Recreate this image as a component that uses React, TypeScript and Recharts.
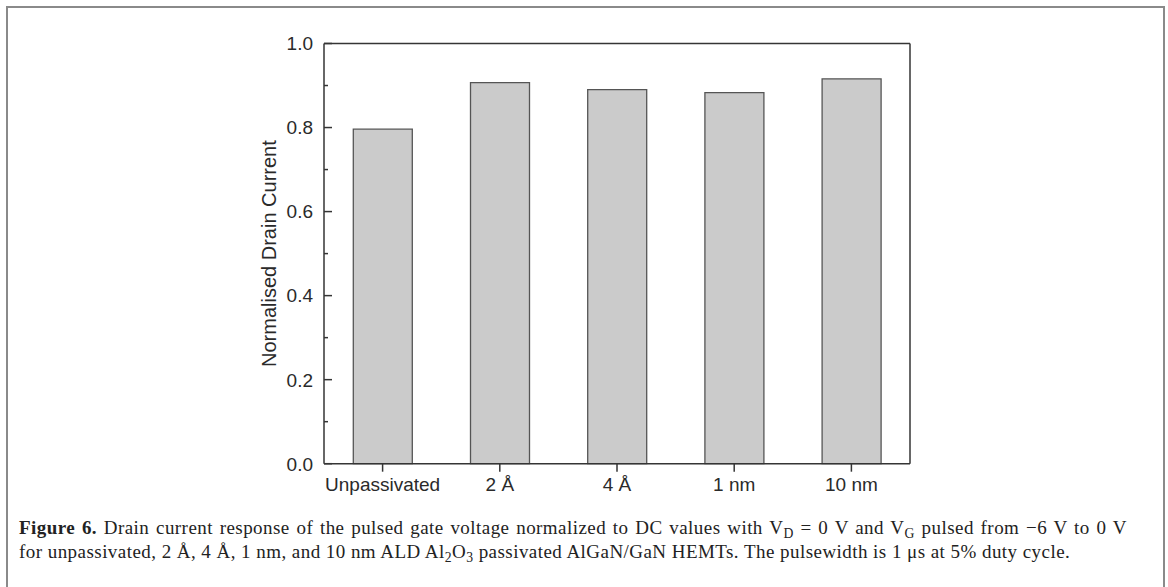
import React from "react";
import { BarChart, Bar, XAxis, YAxis } from "recharts";

// Passivation conditions and their normalised drain current (pulsed / DC)
const categories = ["Unpassivated", "2 Å", "4 Å", "1 nm", "10 nm"];
const normalisedCurrent = [0.796, 0.907, 0.89, 0.883, 0.916];

// Y axis: major ticks carry labels, minor ticks in between
const yTicks = [0, 0.1, 0.2, 0.3, 0.4, 0.5, 0.6, 0.7, 0.8, 0.9, 1.0];
const yLabelled = [0, 0.2, 0.4, 0.6, 0.8, 1.0];

const data = categories.map((name, i) => ({ name, value: normalisedCurrent[i] }));

const AXIS = "#353535";
const SANS = "'Liberation Sans', Arial, sans-serif";
const SERIF = "'Liberation Serif', 'Times New Roman', serif";

// Y ticks are drawn inward (into the plot), labels sit outside
const YTick = (props: any) => {
  const { x, y, payload } = props;
  const v = payload.value as number;
  const major = yLabelled.some((t) => Math.abs(t - v) < 1e-6);
  return (
    <g>
      <line x1={x} y1={y} x2={x + (major ? 8 : 4)} y2={y} stroke={AXIS} strokeWidth={1.5} />
      {major && (
        <text x={x - 11} y={y} dy="0.36em" textAnchor="end" fontFamily={SANS} fontSize={19} fill="#2a2a2a">
          {v.toFixed(1)}
        </text>
      )}
    </g>
  );
};

const YLabel = (props: any) => {
  const vb = props.viewBox || {};
  const cx = vb.x + vb.width - 55;
  const cy = vb.y + vb.height / 2;
  return (
    <text
      x={cx}
      y={cy}
      transform={`rotate(-90 ${cx} ${cy})`}
      textAnchor="middle"
      dominantBaseline="central"
      fontFamily={SANS}
      fontSize={20}
      fill="#2a2a2a"
    >
      Normalised Drain Current
    </text>
  );
};

const sub: React.CSSProperties = { fontSize: "0.72em", position: "relative", top: "0.28em", lineHeight: 0 };

export default function App() {
  return (
    <div style={{ position: "absolute", left: 0, top: 0, width: 1168, height: 587, overflow: "hidden", background: "#fff" }}>
      <div
        style={{
          position: "absolute",
          left: 6,
          top: 6,
          width: 1159,
          height: 640,
          boxSizing: "border-box",
          border: "2px solid #8a8a8a",
        }}
      />
      <div style={{ position: "absolute", left: 0, top: 0 }}>
        <BarChart
          width={1168}
          height={520}
          data={data}
          margin={{ top: 42.5, right: 257, bottom: 16.3, left: 0 }}
          barCategoryGap="25%"
        >
          <XAxis
            dataKey="name"
            height={40}
            tickSize={8}
            tickMargin={6}
            stroke={AXIS}
            strokeWidth={1.5}
            tickLine={{ stroke: AXIS, strokeWidth: 1.5 }}
            tick={{ fill: "#2a2a2a", fontFamily: SANS, fontSize: 19 }}
            interval={0}
          />
          <XAxis
            xAxisId="top"
            dataKey="name"
            orientation="top"
            height={1}
            tick={false}
            tickLine={false}
            axisLine={{ stroke: AXIS, strokeWidth: 1.5 }}
          />
          <YAxis
            width={324}
            domain={[0, 1]}
            ticks={yTicks}
            interval={0}
            tickSize={0}
            tickMargin={0}
            tick={<YTick />}
            stroke={AXIS}
            strokeWidth={1.5}
            label={<YLabel />}
          />
          <YAxis
            yAxisId="right"
            orientation="right"
            width={1}
            domain={[0, 1]}
            tick={false}
            tickLine={false}
            axisLine={{ stroke: AXIS, strokeWidth: 1.5 }}
          />
          <Bar dataKey="value" fill="#cbcbcb" stroke="#555" strokeWidth={1.3} isAnimationActive={false} />
        </BarChart>
      </div>
      <div
        style={{
          position: "absolute",
          left: 19,
          top: 516,
          fontFamily: SERIF,
          fontSize: 19,
          letterSpacing: "0.45px",
          lineHeight: "24px",
          color: "#222",
          whiteSpace: "nowrap",
        }}
      >
        <div style={{ width: 1108, textAlign: "justify", textAlignLast: "justify", whiteSpace: "normal" }}>
          <b>Figure 6.</b> Drain current response of the pulsed gate voltage normalized to DC values with V
          <span style={sub}>D</span> = 0 V and V<span style={sub}>G</span> pulsed from −6 V to 0 V
        </div>
        <div>
          for unpassivated, 2 Å, 4 Å, 1 nm, and 10 nm ALD Al<span style={sub}>2</span>O<span style={sub}>3</span> passivated
          AlGaN/GaN HEMTs. The pulsewidth is 1 μs at 5% duty cycle.
        </div>
      </div>
    </div>
  );
}
